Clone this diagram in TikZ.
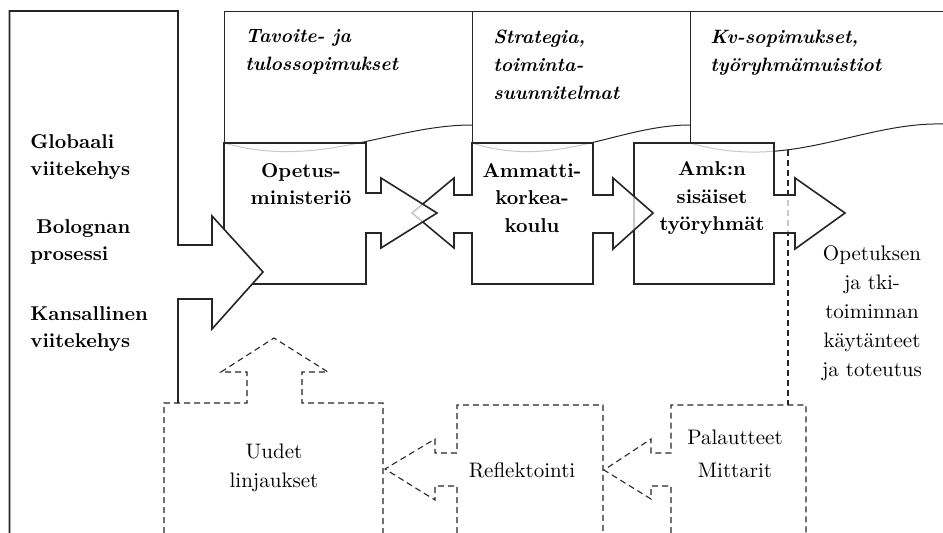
\documentclass[tikz,border=0pt]{standalone}
\begin{document}
\begin{tikzpicture}[x=1pt,y=-1pt,
		hdr/.style={line width=1pt,draw=black!85},
		blk/.style={line width=1.6pt,draw=black!85},
		thru/.style={fill=white,fill opacity=0.75},
		dsh/.style={line width=1.1pt,draw=black!85,dash pattern=on 6pt off 4pt},
		hdrtxt/.style={font=\fontsize{10}{14.5}\selectfont\bfseries\itshape,scale=1.93,align=left,anchor=west,inner sep=0pt},
		sidetxt/.style={font=\fontsize{10}{13.75}\selectfont\bfseries,scale=2,align=left,anchor=west,inner sep=0pt},
		boxtxt/.style={font=\fontsize{10}{13.75}\selectfont\bfseries,scale=2,align=center,inner sep=0pt},
		plaintxt/.style={font=\fontsize{10}{13.8}\selectfont,scale=2.1,align=center,inner sep=0pt}]
	\useasboundingbox (0,0) rectangle (943,533);

	% otsikot
	\draw[hdr] (224,143) -- (224,11) -- (943,11);
	\draw[hdr] (472,11) -- (472,143);
	\draw[hdr] (690,11) -- (690,143);
	\draw[hdr] (224,143) .. controls (320,170) and (390,125) .. (472,125);
	\draw[hdr] (472,143) .. controls (556,170) and (618,125) .. (690,125);
	\draw[hdr] (690,143) .. controls (790,172) and (860,122) .. (943,124);
	\coordinate (wv) at (788,150);
	\coordinate (pt) at (788,405);
	\draw[dsh] (wv) -- (pt);

	% laatikot
	\draw[blk,thru] (634,143) -- (774,143) -- (774,195) -- (795,195) -- (795,178) -- (845,213)
		-- (795,249) -- (795,233) -- (774,233) -- (774,284) -- (634,284) -- cycle;
	\draw[blk,thru] (472,143) -- (593,143) -- (593,195) -- (613,195) -- (613,178) -- (653,213)
		-- (613,249) -- (613,233) -- (593,233) -- (593,284) -- (472,284) -- (472,233) -- (454,233)
		-- (454,248) -- (412,213) -- (454,178) -- (454,195) -- (472,195) -- cycle;
	\draw[blk,thru] (224,143) -- (366,143) -- (366,193) -- (381,193) -- (381,178) -- (437,213)
		-- (381,248) -- (381,233) -- (366,233) -- (366,284) -- (224,284) -- cycle;
	\draw[blk,fill=white] (9.5,533) -- (9.5,11) -- (178,11) -- (178,245) -- (212,245) -- (212,216)
		-- (263,272) -- (212,329) -- (212,299) -- (178,299) -- (178,403);

	% palaute
	\draw[dsh] (164,533) -- (164,403) -- (247,403) -- (247,372) -- (221,372) -- (274,338) -- (328,372)
		-- (302,372) -- (302,403) -- (383,403) -- (383,533);
	\draw[dsh] (457,533) -- (457,486) -- (435,486) -- (435,500) -- (385,469) -- (435,439) -- (435,453)
		-- (457,453) -- (457,405) -- (603,405) -- (603,533);
	\draw[dsh] (671,533) -- (671,486) -- (651,486) -- (651,499) -- (604,470) -- (651,439) -- (651,453)
		-- (671,453) -- (671,405) -- (806,405) -- (806,533);

	\node[sidetxt] (glob) at (30,156.8) {Globaali\\viitekehys};
	\node[sidetxt] (bol) at (30,241.8) {\hspace*{3pt}Bolognan\\prosessi};
	\node[sidetxt] (kans) at (30,329) {Kansallinen\\viitekehys};
	\node[hdrtxt] (tav) at (245,52.3) {Tavoite- ja\\tulossopimukset};
	\node[hdrtxt] (strat) at (493,64.5) {Strategia,\\toiminta-\\suunnitelmat};
	\node[hdrtxt] (kv) at (710,52.3) {Kv-sopimukset,\\työryhmämuistiot};
	\node[boxtxt] (opm) at (301,184) {Opetus-\\ministeriö};
	\node[boxtxt] (amk) at (532,197.7) {Ammatti-\\korkea-\\koulu};
	\node[boxtxt] (tyor) at (712,198.5) {Amk:n\\sisäiset\\työryhmät};
	\node[plaintxt] (tot) at (872,313.7) {Opetuksen\\ja tki-\\toiminnan\\käytänteet\\ja toteutus};
	\node[plaintxt] (uud) at (274,468.3) {Uudet\\linjaukset};
	\node[plaintxt] (refl) at (522,470.7) {Reflektointi};
	\node[plaintxt] (pal) at (735,454.2) {Palautteet\\[2pt]Mittarit};
\end{tikzpicture}
\end{document}
